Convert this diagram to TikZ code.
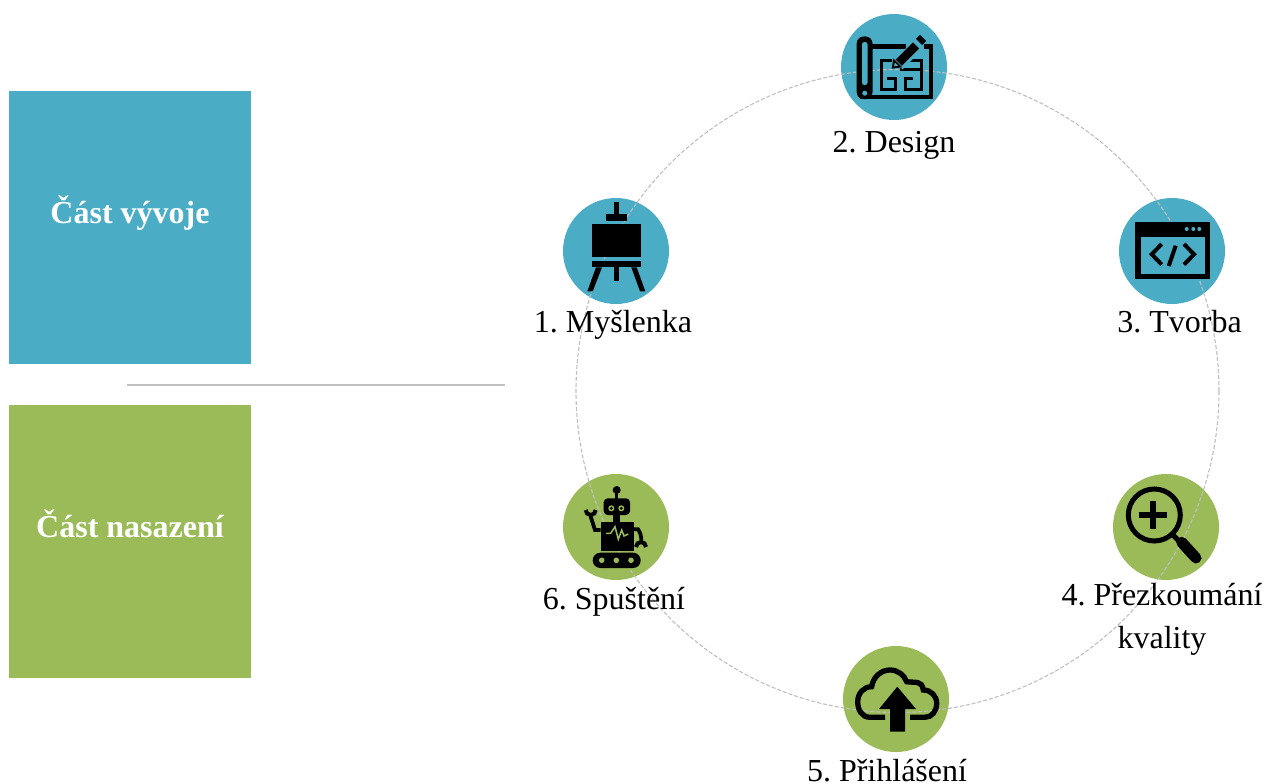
\documentclass[tikz,border=0pt]{standalone}
\usepackage{fontspec}
\setmainfont{Liberation Serif}
\frenchspacing
\definecolor{vyvoj}{HTML}{4BACC6}
\definecolor{nasazeni}{HTML}{9BBB59}
\definecolor{kruh}{HTML}{BFBFBF}
\newcommand{\popisfont}{\fontsize{32}{38}\selectfont}
\newcommand{\panelfont}{\fontsize{32}{38}\selectfont\bfseries}
\begin{document}
\begin{tikzpicture}[x=1pt,y=1pt]
        \tikzstyle{every node}+=[inner sep=0pt]
        \tikzstyle{panel}=[minimum width=242pt,minimum height=273pt]
        \tikzstyle{paneltext}=[text=white,font=\panelfont,anchor=base]
        \tikzstyle{disc}=[circle,minimum size=106pt]
        \tikzstyle{label}=[black,font=\popisfont,anchor=base]
        \useasboundingbox (0,0) rectangle (1266,-784);
        % panels
        \node (panelA) [panel,fill=vyvoj] at (130,-227.5) {};
        \node (panelB) [panel,fill=nasazeni] at (130,-541.5) {};
        \node (panelAtext) [paneltext] at (130,-223) {Část vývoje};
        \node (panelBtext) [paneltext] at (130,-537) {Část nasazení};
        \coordinate (sepL) at (127,-384.5);
        \coordinate (sepR) at (505,-384.5);
        \draw [kruh,line width=2pt] (sepL) -- (sepR);
        % discs
        \node (disc1) [disc,fill=vyvoj] at (616,-251) {};
        \node (disc2) [disc,fill=vyvoj] at (894,-67) {};
        \node (disc3) [disc,fill=vyvoj] at (1172,-251) {};
        \node (disc4) [disc,fill=nasazeni] at (1166,-527) {};
        \node (disc5) [disc,fill=nasazeni] at (896,-699) {};
        \node (disc6) [disc,fill=nasazeni] at (616,-527) {};
        \coordinate (ringC) at (897.5,-391);
        \draw [kruh,line width=1.1pt,dash pattern=on 4pt off 2pt] (ringC) circle (321.5);
        % 1 easel
        \fill [black] (614,-202) rectangle (618.7,-215);
        \fill [black] (606,-214.3) rectangle (626.7,-220.7);
        \fill [black] (592,-224.3) rectangle (640.7,-257);
        \fill [black] (592,-261) rectangle (640.7,-267.3);
        \fill [black] (614,-267) rectangle (618.7,-281.3);
        \fill [black] (596,-267.3) -- (602,-267.3) -- (592.7,-291.3) -- (587.3,-291.3) -- cycle;
        \fill [black] (631.3,-267.3) -- (636.7,-267.3) -- (645.3,-291.3) -- (640,-291.3) -- cycle;
        % 2 blueprint
        \draw [black,line width=4.4pt] (868,-46.5) -- (906,-46.5);
        \draw [black,line width=4.4pt] (924,-46.5) -- (931,-46.5) -- (931,-97) -- (860,-97);
        \fill [black,rounded corners=7pt] (856.7,-36.5) rectangle (872.5,-99.2);
        \fill [vyvoj,rounded corners=2.4pt] (862,-42) rectangle (867.5,-85);
        \fill [vyvoj] (864.7,-93.2) circle (2.5);
        \draw [black,line width=3pt] (892,-60.3) -- (881,-60.3) -- (881,-89.7) -- (895,-89.7) -- (895,-78) -- (886.7,-78);
        \draw [black,line width=3pt] (903.3,-60.3) -- (921,-60.3) -- (921,-89.7) -- (905,-89.7) -- (905,-78) -- (913.3,-78);
        \draw [black,line width=3pt] (900,-69.7) -- (921,-69.7);
        \draw [vyvoj,line width=12.5pt] (898,-65) -- (918,-45);
        \fill [black] (891.7,-68.7) -- (893.3,-58.5) -- (902.2,-67.3) -- cycle;
        \fill [vyvoj] (894,-66.4) -- (894.8,-62.6) -- (898,-65.6) -- cycle;
        \draw [black,line width=8.7pt] (898.8,-62.6) -- (916,-45.4);
        \draw [black,line width=8.7pt] (919,-42) -- (923,-38);
        % 3 code window
        \fill [black] (1135.3,-221.7) rectangle (1210,-279.3);
        \fill [vyvoj] (1141,-236.7) rectangle (1204.7,-274);
        \fill [vyvoj] (1186.7,-229) circle (2);
        \fill [vyvoj] (1193.3,-229) circle (2);
        \fill [vyvoj] (1199.3,-229) circle (2);
        \draw [black,line width=4pt] (1161.7,-244) -- (1151.7,-254.3) -- (1161.7,-264.6);
        \draw [black,line width=4pt] (1175.7,-245.7) -- (1168.7,-266);
        \draw [black,line width=4pt] (1184,-244) -- (1194,-254.3) -- (1184,-264.6);
        % 4 magnifier
        \draw [black,line width=5pt] (1154.3,-515) circle (26);
        \draw [black,line width=6pt] (1139,-515) -- (1167,-515);
        \draw [black,line width=6pt] (1153,-501) -- (1153,-529);
        \draw [black,line width=5pt] (1173,-535) -- (1183,-545);
        \draw [black,line width=11pt,line cap=round] (1181.7,-542.3) -- (1196,-558);
        % 5 cloud
        \draw [black,line width=5.3pt] (885,-717.3) -- (870,-717.3)
            .. controls (862,-717.3) and (857.7,-710) .. (857.7,-701.7)
            .. controls (857.7,-693) and (864,-686.7) .. (871.7,-686.7)
            .. controls (873,-677) and (881,-670) .. (890,-670)
            .. controls (898,-670) and (904,-675) .. (906.7,-681.7)
            .. controls (915,-683) and (922,-680) .. (923.3,-690)
            .. controls (931,-690) and (936.7,-696) .. (936.7,-703.3)
            .. controls (936.7,-711) and (932,-717.3) .. (925,-717.3) -- (910,-717.3);
        \fill [black] (897.3,-686.7) -- (916,-709) -- (905,-709) -- (905,-731.7) -- (890,-731.7) -- (890,-709) -- (879,-709) -- cycle;
        % 6 robot
        \fill [black] (616.7,-490) circle (4);
        \draw [black,line width=2.7pt] (616.7,-490) -- (616.7,-499);
        \fill [black,rounded corners=4pt] (603.7,-498.3) rectangle (630,-515);
        \fill [nasazeni] (611.3,-508.3) circle (3);
        \fill [nasazeni] (621.3,-508.3) circle (3);
        \fill [black] (611.3,-508.3) circle (1.6);
        \fill [black] (621.3,-508.3) circle (1.6);
        \fill [black] (613,-514) rectangle (620,-522);
        \fill [black] (600.7,-521.7) rectangle (634,-550.7);
        \draw [nasazeni,line width=1.5pt] (606,-533.3) -- (610.7,-533.3) -- (615,-526.7) -- (618.3,-539.3) -- (621.7,-530) -- (624,-536) -- (628.3,-534);
        \draw [black,line width=3.8pt] (600.7,-530) -- (595,-530) -- (590.5,-516);
        \draw [black,line width=4pt] (585.7,-510) arc (180:360:5);
        \draw [black,line width=3.8pt] (634,-529.3) -- (638,-529.3) .. controls (640,-532) and (641.5,-536) .. (641.3,-541);
        \draw [black,line width=4pt] (636,-547) arc (180:0:5);
        \fill [black,rounded corners=7.6pt] (592.7,-552.7) rectangle (640.7,-568);
        \fill [nasazeni] (601.7,-560.3) circle (2.8);
        \fill [nasazeni] (616.3,-560.3) circle (2.8);
        \fill [nasazeni] (631,-560.3) circle (2.8);
        % labels
        \node (label1) [label] at (613,-332) {1. Myšlenka};
        \node (label2) [label] at (894,-152) {2. Design};
        \node (label3) [label] at (1179.5,-332) {3. Tvorba};
        \node (label4) [label] at (1162,-605) {4. Přezkoumání};
        \node (label4b) [label] at (1162,-648) {kvality};
        \node (label5) [label] at (887,-781) {5. Přihlášení};
        \node (label6) [label] at (614,-609) {6. Spuštění};
\end{tikzpicture}
\end{document}
